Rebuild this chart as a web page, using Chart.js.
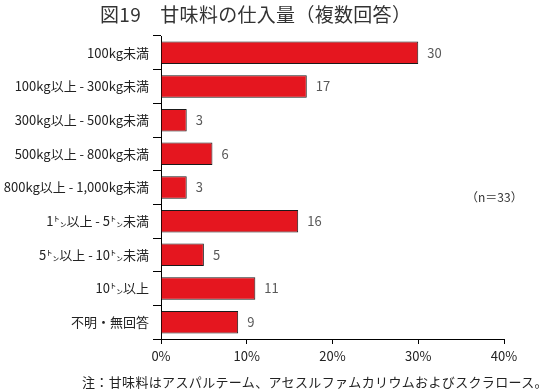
<!DOCTYPE html>
<html><head><meta charset="utf-8">
<script src="https://cdn.jsdelivr.net/npm/chart.js@4"></script>
<style>
body{margin:0;background:#fff;}
#wrap{position:relative;width:543px;height:390px;overflow:hidden;}
canvas{position:absolute;left:0;top:0;}
.t{position:absolute;font-family:"Noto Sans CJK JP";white-space:nowrap;color:#222;line-height:1;}
</style></head><body>
<div id="wrap">
<canvas id="c" width="543" height="390"></canvas>
<div class="t" id="title" style="left:100px;top:4px;font-size:19px;color:#333;letter-spacing:0.3px;">図19　甘味料の仕入量（複数回答）</div>
<div class="t" id="note" style="left:466px;top:191px;font-size:12px;color:#333;">（n＝33）</div>
<div class="t" id="foot" style="left:82px;top:375px;font-size:13px;color:#222;letter-spacing:0.35px;">注：甘味料はアスパルテーム、アセスルファムカリウムおよびスクラロース。</div>
</div>
<script>
const categories = ['100kg未満','100kg以上 - 300kg未満','300kg以上 - 500kg未満','500kg以上 - 800kg未満','800kg以上 - 1,000kg未満','1㌧以上 - 5㌧未満','5㌧以上 - 10㌧未満','10㌧以上','不明・無回答'];
const values = [30, 17, 3, 6, 3, 16, 5, 11, 9];
const xTicks = [0, 10, 20, 30, 40];

const FONT = '"Noto Sans CJK JP"';

const valueLabels = {
  id: 'valueLabels',
  afterDatasetsDraw(chart) {
    const ctx = chart.ctx;
    const meta = chart.getDatasetMeta(0);
    ctx.save();
    ctx.font = '13px ' + FONT;
    ctx.fillStyle = '#595959';
    ctx.textBaseline = 'middle';
    ctx.textAlign = 'left';
    meta.data.forEach((el, i) => {
      ctx.fillText(String(values[i]), el.x + 9, el.y);
    });
    ctx.restore();
  }
};

new Chart(document.getElementById('c'), {
  type: 'bar',
  data: {
    labels: categories,
    datasets: [{
      data: values,
      backgroundColor: '#E5161F',
      borderColor: '#1a1a1a',
      borderWidth: 1,
      barPercentage: 0.67,
      categoryPercentage: 1
    }]
  },
  options: {
    indexAxis: 'y',
    responsive: false,
    animation: false,
    devicePixelRatio: 1,
    layout: { padding: { top: 36, right: 39, bottom: 0, left: 0 } },
    plugins: { legend: { display: false }, tooltip: { enabled: false }, title: { display: false } },
    scales: {
      y: {
        type: 'category',
        offset: true,
        grid: { display: true, drawOnChartArea: false, tickLength: 8, color: '#000', offset: true },
        border: { color: '#000', width: 1 },
        ticks: { color: '#222', font: { family: FONT, size: 13 }, padding: 4 },
        afterFit: s => { s.width = 161; }
      },
      x: {
        min: 0, max: 40,
        afterBuildTicks: s => { s.ticks = xTicks.map(v => ({ value: v })); },
        grid: { display: true, drawOnChartArea: false, tickLength: 5, color: '#000' },
        border: { color: '#000', width: 1 },
        ticks: { color: '#222', font: { family: FONT, size: 13 }, padding: 4, callback: v => v + '%' },
        afterFit: s => { s.height = 51; }
      }
    }
  },
  plugins: [valueLabels]
});
</script>
</body></html>
